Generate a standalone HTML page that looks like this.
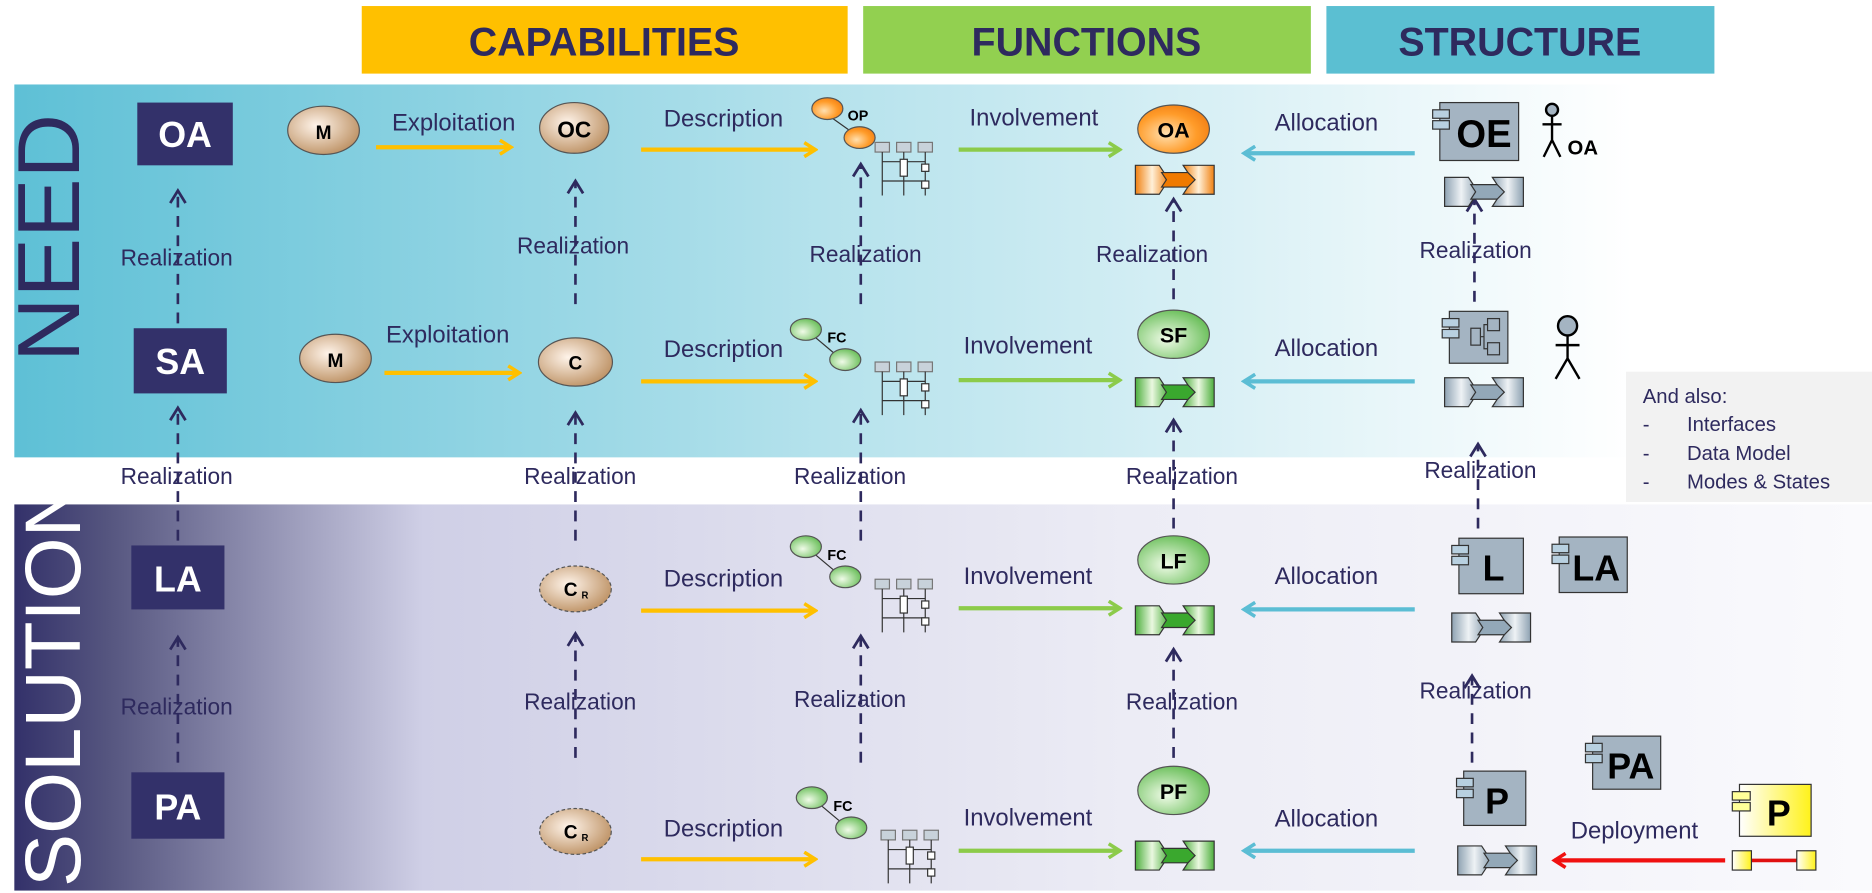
<!DOCTYPE html>
<html><head><meta charset="utf-8"><style>html,body{margin:0;padding:0;background:#fff;}svg{display:block}</style></head>
<body>
<svg width="1872" height="893" viewBox="0 0 1568 740" preserveAspectRatio="none" xmlns="http://www.w3.org/2000/svg" font-family="Liberation Sans, Arial, sans-serif">
<defs>
<linearGradient id="need" x1="0" x2="1" y1="0" y2="0"><stop offset="0" stop-color="#5ec0d6"/><stop offset="0.5" stop-color="#b5e2ec"/><stop offset="1" stop-color="#ffffff"/></linearGradient>
<linearGradient id="sol" x1="0" x2="1" y1="0" y2="0"><stop offset="0" stop-color="#33316a"/><stop offset="0.05" stop-color="#55557f"/><stop offset="0.22" stop-color="#cfcfe6"/><stop offset="0.6" stop-color="#ececf5"/><stop offset="1" stop-color="#fafafd"/></linearGradient>
<radialGradient id="tan" cx="0.4" cy="0.4" r="0.7"><stop offset="0" stop-color="#fff4ea"/><stop offset="1" stop-color="#b88a5a"/></radialGradient>
<radialGradient id="org" cx="0.4" cy="0.6" r="0.7"><stop offset="0" stop-color="#ffe0b0"/><stop offset="0.6" stop-color="#ff9c2a"/><stop offset="1" stop-color="#f07a10"/></radialGradient>
<radialGradient id="grn" cx="0.4" cy="0.6" r="0.7"><stop offset="0" stop-color="#f0fbe8"/><stop offset="1" stop-color="#5bb84a"/></radialGradient>
<linearGradient id="gry" x1="0" x2="1"><stop offset="0" stop-color="#8ea2b2"/><stop offset="0.5" stop-color="#eef2f5"/><stop offset="1" stop-color="#8ea2b2"/></linearGradient>
<linearGradient id="og" x1="0" x2="1"><stop offset="0" stop-color="#f08010"/><stop offset="0.5" stop-color="#fff0d8"/><stop offset="1" stop-color="#f08010"/></linearGradient>
<linearGradient id="gg" x1="0" x2="1"><stop offset="0" stop-color="#4cae3c"/><stop offset="0.5" stop-color="#eaf8e0"/><stop offset="1" stop-color="#4cae3c"/></linearGradient>
<linearGradient id="yel" x1="0" x2="1"><stop offset="0" stop-color="#ffffff"/><stop offset="1" stop-color="#fff21a"/></linearGradient>
<marker id="ay" viewBox="0 0 12 12" refX="10" refY="6" markerWidth="4" markerHeight="4" orient="auto"><path d="M2,1 L10,6 L2,11" fill="none" stroke="#ffc000" stroke-width="2.5"/></marker>
<marker id="ag" viewBox="0 0 12 12" refX="10" refY="6" markerWidth="4" markerHeight="4" orient="auto"><path d="M2,1 L10,6 L2,11" fill="none" stroke="#8ccb4a" stroke-width="2.5"/></marker>
<marker id="ab" viewBox="0 0 12 12" refX="10" refY="6" markerWidth="4" markerHeight="4" orient="auto"><path d="M2,1 L10,6 L2,11" fill="none" stroke="#5bbdd4" stroke-width="2.5"/></marker>
<marker id="ar" viewBox="0 0 12 12" refX="10" refY="6" markerWidth="4" markerHeight="4" orient="auto"><path d="M2,1 L10,6 L2,11" fill="none" stroke="#f01010" stroke-width="2.5"/></marker>
<marker id="an" viewBox="0 0 12 12" refX="10" refY="6" markerWidth="7" markerHeight="7" orient="auto"><path d="M2,1 L10,6 L2,11" fill="none" stroke="#2e2a5e" stroke-width="1.8"/></marker>
<g id="exg"><polygon points="0,0 20,0 28,12 20,24 0,24" fill="url(#gry)" stroke="#333"/><polygon points="40,0 66,0 66,24 40,24 48,12" fill="url(#gry)" stroke="#333"/><polygon points="22,6 44,6 50,12 44,18 22,18 26,12" fill="#93a8b8" stroke="#333"/></g>
<g id="exo"><polygon points="0,0 20,0 28,12 20,24 0,24" fill="url(#og)" stroke="#333"/><polygon points="40,0 66,0 66,24 40,24 48,12" fill="url(#og)" stroke="#333"/><polygon points="22,6 44,6 50,12 44,18 22,18 26,12" fill="#f07a00" stroke="#333"/></g>
<g id="exn"><polygon points="0,0 20,0 28,12 20,24 0,24" fill="url(#gg)" stroke="#333"/><polygon points="40,0 66,0 66,24 40,24 48,12" fill="url(#gg)" stroke="#333"/><polygon points="22,6 44,6 50,12 44,18 22,18 26,12" fill="#3aa82e" stroke="#333"/></g>
<g id="seq"><rect x="0" y="0" width="12" height="8" fill="#c8d2da" stroke="#777"/><rect x="18" y="0" width="12" height="8" fill="#c8d2da" stroke="#777"/><rect x="36" y="0" width="12" height="8" fill="#c8d2da" stroke="#777"/><path d="M6,8V44M24,8V44M42,8V44M6,16H42M6,32H42" stroke="#333" stroke-width="1"/><rect x="21" y="14" width="6" height="14" fill="#fff" stroke="#333"/><rect x="39" y="18" width="6" height="6" fill="#fff" stroke="#333"/><rect x="39" y="32" width="6" height="6" fill="#fff" stroke="#333"/></g>
<g id="tabs"><rect x="-6" y="6" width="14" height="7" fill="#b8d0e0" stroke="#333"/><rect x="-6" y="15" width="14" height="7" fill="#b8d0e0" stroke="#333"/></g>
</defs>

<!-- headers -->
<rect x="303" y="5" width="407" height="56" fill="#ffc000"/>
<text x="506" y="46" text-anchor="middle" font-size="33" font-weight="bold" fill="#2e2a5e">CAPABILITIES</text>
<rect x="723" y="5" width="375" height="56" fill="#92d050"/>
<text x="910" y="46" text-anchor="middle" font-size="33" font-weight="bold" fill="#2e2a5e">FUNCTIONS</text>
<rect x="1111" y="5" width="325" height="56" fill="#5bbfd2"/>
<text x="1273" y="46" text-anchor="middle" font-size="33" font-weight="bold" fill="#2e2a5e">STRUCTURE</text>

<!-- bands -->
<rect x="12" y="70" width="1356" height="309" fill="url(#need)"/>
<rect x="12" y="418" width="1556" height="320" fill="url(#sol)"/>
<rect x="1362" y="308" width="206" height="108" fill="#f2f2f2"/>
<text x="1376" y="334" font-size="17" fill="#2e2a5e">And also:</text>
<text x="1376" y="357" font-size="17" fill="#2e2a5e">-</text><text x="1413" y="357" font-size="17" fill="#2e2a5e">Interfaces</text>
<text x="1376" y="381" font-size="17" fill="#2e2a5e">-</text><text x="1413" y="381" font-size="17" fill="#2e2a5e">Data Model</text>
<text x="1376" y="405" font-size="17" fill="#2e2a5e">-</text><text x="1413" y="405" font-size="17" fill="#2e2a5e">Modes &amp; States</text>

<text transform="translate(66,300) rotate(-90)" font-size="74" fill="#2e2a5e">NEED</text>
<text transform="translate(67,735) rotate(-90)" font-size="66" fill="#ffffff">SOLUTION</text>

<!-- level boxes -->
<g font-size="30" font-weight="bold" fill="#fff" text-anchor="middle">
<rect x="115" y="85" width="80" height="52" fill="#33316a"/><text x="155" y="122">OA</text>
<rect x="112" y="272" width="78" height="54" fill="#33316a"/><text x="151" y="310">SA</text>
<rect x="110" y="452" width="78" height="53" fill="#33316a"/><text x="149" y="490">LA</text>
<rect x="110" y="640" width="78" height="55" fill="#33316a"/><text x="149" y="679">PA</text>
</g>

<!-- realization dashed arrows -->
<g stroke="#2e2a5e" stroke-width="2.2" stroke-dasharray="9,7" marker-end="url(#an)" fill="none">
<path d="M149,268V158"/><path d="M149,448V338"/><path d="M149,632V528"/>
<path d="M482,252V150"/><path d="M482,448V342"/><path d="M482,628V525"/>
<path d="M721,252V136"/><path d="M721,448V340"/><path d="M721,632V527"/>
<path d="M983,248V165"/><path d="M983,438V348"/><path d="M983,628V538"/>
<path d="M1235,250V165"/><path d="M1238,438V368"/><path d="M1233,632V560"/>
</g>
<g font-size="19" fill="#2e2a5e" text-anchor="middle">
<text x="148" y="220">Realization</text><text x="148" y="401">Realization</text><text x="148" y="592">Realization</text>
<text x="480" y="210">Realization</text><text x="486" y="401">Realization</text><text x="486" y="588">Realization</text>
<text x="725" y="217">Realization</text><text x="712" y="401">Realization</text><text x="712" y="586">Realization</text>
<text x="965" y="217">Realization</text><text x="990" y="401">Realization</text><text x="990" y="588">Realization</text>
<text x="1236" y="214">Realization</text><text x="1240" y="396">Realization</text><text x="1236" y="579">Realization</text>
</g>

<!-- capability row arrows -->
<g stroke="#ffc000" stroke-width="3.5" marker-end="url(#ay)" fill="none">
<path d="M315,122H428"/><path d="M322,309H435"/>
<path d="M537,124H683"/><path d="M537,316H683"/><path d="M537,506H683"/><path d="M537,712H683"/>
</g>
<g stroke="#8ccb4a" stroke-width="3.5" marker-end="url(#ag)" fill="none">
<path d="M803,124H938"/><path d="M803,315H938"/><path d="M803,504H938"/><path d="M803,705H938"/>
</g>
<g stroke="#5bbdd4" stroke-width="3.5" marker-end="url(#ab)" fill="none">
<path d="M1185,127H1042"/><path d="M1185,316H1042"/><path d="M1185,505H1042"/><path d="M1185,705H1042"/>
</g>
<path d="M1445,713H1302" stroke="#f01010" stroke-width="3.5" marker-end="url(#ar)" fill="none"/>

<g font-size="20" fill="#2e2a5e" text-anchor="middle">
<text x="380" y="108">Exploitation</text><text x="375" y="284">Exploitation</text>
<text x="606" y="105">Description</text><text x="606" y="296">Description</text><text x="606" y="486">Description</text><text x="606" y="693">Description</text>
<text x="866" y="104">Involvement</text><text x="861" y="293">Involvement</text><text x="861" y="484">Involvement</text><text x="861" y="684">Involvement</text>
<text x="1111" y="108">Allocation</text><text x="1111" y="295">Allocation</text><text x="1111" y="484">Allocation</text><text x="1111" y="685">Allocation</text>
<text x="1369" y="695">Deployment</text>
</g>

<!-- capability ellipses -->
<g font-weight="bold" text-anchor="middle" fill="#000">
<ellipse cx="271" cy="108" rx="30" ry="20" fill="url(#tan)" stroke="#555"/><text x="271" y="115" font-size="16">M</text>
<ellipse cx="481" cy="106" rx="29" ry="21" fill="url(#tan)" stroke="#555"/><text x="481" y="114" font-size="19">OC</text>
<ellipse cx="281" cy="297" rx="30" ry="20" fill="url(#tan)" stroke="#555"/><text x="281" y="304" font-size="16">M</text>
<ellipse cx="482" cy="300" rx="31" ry="20" fill="url(#tan)" stroke="#555"/><text x="482" y="306" font-size="16">C</text>
<ellipse cx="482" cy="488" rx="30" ry="19" fill="url(#tan)" stroke="#555" stroke-dasharray="3,2"/><text x="478" y="494" font-size="16">C</text><text x="490" y="496" font-size="8">R</text>
<ellipse cx="482" cy="689" rx="30" ry="19" fill="url(#tan)" stroke="#555" stroke-dasharray="3,2"/><text x="478" y="695" font-size="16">C</text><text x="490" y="697" font-size="8">R</text>
</g>

<!-- OP / FC icons -->
<g>
<path d="M693,95 L720,114" stroke="#333"/><ellipse cx="693" cy="90" rx="13" ry="9" fill="url(#org)" stroke="#555"/><ellipse cx="720" cy="114" rx="13" ry="9" fill="url(#org)" stroke="#555"/><text x="710" y="100" font-size="12" font-weight="bold">OP</text>
<use href="#seq" x="733" y="118"/>
<path d="M675,273 L705,298" stroke="#333"/><ellipse cx="675" cy="273" rx="13" ry="9" fill="url(#grn)" stroke="#555"/><ellipse cx="708" cy="298" rx="13" ry="9" fill="url(#grn)" stroke="#555"/><text x="693" y="284" font-size="12" font-weight="bold">FC</text>
<use href="#seq" x="733" y="300"/>
<path d="M675,453 L705,478" stroke="#333"/><ellipse cx="675" cy="453" rx="13" ry="9" fill="url(#grn)" stroke="#555"/><ellipse cx="708" cy="478" rx="13" ry="9" fill="url(#grn)" stroke="#555"/><text x="693" y="464" font-size="12" font-weight="bold">FC</text>
<use href="#seq" x="733" y="480"/>
<path d="M680,661 L710,686" stroke="#333"/><ellipse cx="680" cy="661" rx="13" ry="9" fill="url(#grn)" stroke="#555"/><ellipse cx="713" cy="686" rx="13" ry="9" fill="url(#grn)" stroke="#555"/><text x="698" y="672" font-size="12" font-weight="bold">FC</text>
<use href="#seq" x="738" y="688"/>
</g>

<!-- function ellipses -->
<g font-weight="bold" text-anchor="middle" fill="#000">
<ellipse cx="983" cy="107" rx="30" ry="20" fill="url(#org)" stroke="#555"/><text x="983" y="114" font-size="18">OA</text>
<ellipse cx="983" cy="277" rx="30" ry="20" fill="url(#grn)" stroke="#555"/><text x="983" y="284" font-size="18">SF</text>
<ellipse cx="983" cy="464" rx="30" ry="20" fill="url(#grn)" stroke="#555"/><text x="983" y="471" font-size="18">LF</text>
<ellipse cx="983" cy="655" rx="30" ry="20" fill="url(#grn)" stroke="#555"/><text x="983" y="662" font-size="18">PF</text>
</g>
<use href="#exo" x="951" y="137"/>
<use href="#exn" x="951" y="313"/>
<use href="#exn" x="951" y="502"/>
<use href="#exn" x="951" y="697"/>

<!-- structure -->
<g font-weight="bold" fill="#000" text-anchor="middle">
<rect x="1206" y="85" width="66" height="48" fill="#a4b4c2" stroke="#333"/><use href="#tabs" x="1206" y="85"/><text x="1243" y="122" font-size="32">OE</text>
<rect x="1214" y="258" width="49" height="43" fill="#a4b4c2" stroke="#333"/><use href="#tabs" x="1214" y="258"/>
<rect x="1232" y="272" width="8" height="14" fill="#a4b4c2" stroke="#333"/><rect x="1246" y="264" width="10" height="10" fill="#a4b4c2" stroke="#333"/><rect x="1246" y="284" width="10" height="10" fill="#a4b4c2" stroke="#333"/><path d="M1240,279H1243V269H1246M1243,279V289H1246" stroke="#333" fill="none"/>
<rect x="1222" y="446" width="54" height="46" fill="#a4b4c2" stroke="#333"/><use href="#tabs" x="1222" y="446"/><text x="1251" y="481" font-size="30">L</text>
<rect x="1306" y="445" width="57" height="46" fill="#a4b4c2" stroke="#333"/><use href="#tabs" x="1306" y="445"/><text x="1337" y="481" font-size="30">LA</text>
<rect x="1226" y="639" width="52" height="45" fill="#a4b4c2" stroke="#333"/><use href="#tabs" x="1226" y="639"/><text x="1254" y="674" font-size="30">P</text>
<rect x="1334" y="610" width="57" height="44" fill="#a4b4c2" stroke="#333"/><use href="#tabs" x="1334" y="610"/><text x="1366" y="645" font-size="30">PA</text>
<rect x="1457" y="650" width="60" height="43" fill="url(#yel)" stroke="#333"/><rect x="1451" y="656" width="15" height="7" fill="#ffff99" stroke="#333"/><rect x="1451" y="665" width="15" height="7" fill="#ffff99" stroke="#333"/><text x="1490" y="684" font-size="30">P</text>
</g>
<use href="#exg" x="1210" y="147"/>
<use href="#exg" x="1210" y="313"/>
<use href="#exg" x="1216" y="508"/>
<use href="#exg" x="1221" y="701"/>
<path d="M1467,713H1506" stroke="#e01010" stroke-width="3"/>
<rect x="1451" y="705" width="16" height="16" fill="url(#yel)" stroke="#333"/><rect x="1505" y="705" width="16" height="16" fill="url(#yel)" stroke="#333"/>

<!-- actors -->
<g stroke="#000" stroke-width="2" fill="none">
<circle cx="1300" cy="91" r="5" fill="#a4b4c2"/><path d="M1300,96V116M1292,103H1308M1300,116L1293,130M1300,116L1307,130"/>
<circle cx="1313" cy="270" r="8" fill="#a4b4c2"/><path d="M1313,278V297M1303,286H1323M1313,297L1303,314M1313,297L1323,314"/>
</g>
<text x="1313" y="128" font-size="17" font-weight="bold" fill="#000">OA</text>
</svg>
</body></html>
